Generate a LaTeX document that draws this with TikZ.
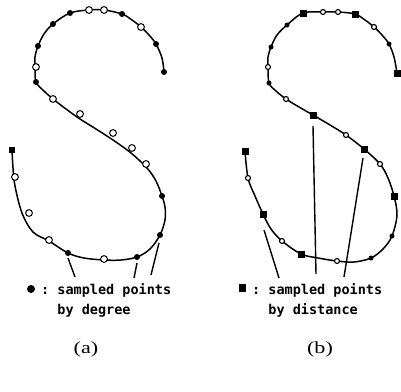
\documentclass[tikz,border=0pt]{standalone}
\usepackage{fontspec}
\newfontfamily\legendfont{DejaVu Sans Mono}
\newfontfamily\capfont{Liberation Serif}
\usetikzlibrary{positioning}

\begin{document}
\begin{tikzpicture}[x=1pt, y=-1pt]
        \tikzstyle{curve} = [draw, line width=1.5pt, line join=round]
        \tikzstyle{line} = [draw, line width=1.4pt]
        \tikzstyle{ptfill} = [circle, fill=black, inner sep=0pt, minimum size=6pt]
        \tikzstyle{ptsmall} = [circle, fill=black, inner sep=0pt, minimum size=5pt]
        \tikzstyle{ptopen} = [circle, draw, fill=white, line width=1pt, inner sep=0pt, minimum size=6.8pt]
        \tikzstyle{ptopensmall} = [circle, draw, fill=white, line width=1.1pt, inner sep=0pt, minimum size=5pt]
        \tikzstyle{ptsquare} = [rectangle, fill=black, inner sep=0pt, minimum size=7pt]
        \tikzstyle{legend} = [font=\legendfont\bfseries\fontsize{13.5}{20}\selectfont, align=left, inner sep=0pt, anchor=north west]
        \tikzstyle{caption} = [font=\capfont\fontsize{17}{20}\selectfont, inner sep=0pt]

        \useasboundingbox (0,0) rectangle (401,391);

        % Curve (a)
        \draw[curve] plot[smooth, tension=0.55] coordinates {
            (164,72) (162,58) (156,44) (149,35) (141,27) (132,20) (122,14) (104,10)
            (89,10) (70,13) (53,24) (44,34) (38,46) (35,57) (35,67) (36,82) (44,91)
            (53,99) (66,109) (80,119) (96,129) (113,140) (131,153) (147,168) (156,181)
            (162,196) (165,207) (165,220) (160,235) (150,249) (137,257) (121,260)
            (104,260) (84,258) (68,253) (49,241) (33,232) (22,213) (15,186) (13,168) (12,150)};

        % Curve (b)
        \draw[curve] plot[smooth, tension=0.55] coordinates {
            (397,73) (394,57) (389,44) (382,35) (374,27) (365,20) (355,14) (338,12)
            (323,12) (303,13) (287,25) (277,35) (271,47) (268,57) (268,67) (269,83)
            (276,91) (286,99) (299,107) (313,115) (330,125) (346,135) (364,149)
            (380,164) (388,178) (394,196) (397,215) (392,236) (383,249) (371,258)
            (354,262) (337,261) (318,258) (301,254) (282,241) (271,229) (263,214)
            (255,196) (248,178) (245,151)};

        % Points (a)
        \foreach \x/\y [count=\i] in {164/72, 156/44, 122/14, 70/13, 53/24, 38/46, 36/82,
            162/196, 160/235, 137/257, 68/253}
            \node[ptfill] (fa\i) at (\x,\y) {};
        \node[ptsquare, minimum size=6pt] (fa0) at (12,150) {};
        \foreach \x/\y [count=\i] in {141/27, 104/10, 89/10, 36/67, 53/99, 80/114,
            113/133, 132/148, 146/164, 15/177, 29/213, 49/240, 104/259}
            \node[ptopen] (oa\i) at (\x,\y) {};

        % Points (b)
        \foreach \x/\y [count=\i] in {397/73, 355/14, 303/13, 313/115, 364/149,
            394/196, 301/254, 263/214, 245/151}
            \node[ptsquare] (sb\i) at (\x,\y) {};
        \foreach \x/\y [count=\i] in {389/44, 287/25, 271/47, 269/83, 392/236, 371/258}
            \node[ptsmall] (fb\i) at (\x,\y) {};
        \foreach \x/\y [count=\i] in {374/27, 338/12, 323/12, 268/67, 286/99, 346/135,
            380/164, 337/261, 282/241, 248/178}
            \node[ptopensmall] (ob\i) at (\x,\y) {};

        % Legends
        \node[ptfill, minimum size=8pt] (keya) at (31,289) {};
        \node[legend] (texta) at (41,283) {:\ sampled points\\\phantom{:\ }by degree};
        \node[ptsquare, minimum width=7pt, minimum height=8pt] (keyb) at (242,288) {};
        \node[legend] (textb) at (252,283) {:\ sampled points\\\phantom{:\ }by distance};

        % Pointer lines
        \coordinate (ta1) at (68,258);  \coordinate (ba1) at (75,277);
        \coordinate (ta2) at (137,263); \coordinate (ba2) at (134,278);
        \coordinate (ta3) at (159,243); \coordinate (ba3) at (151,275);
        \coordinate (tb1) at (264,230); \coordinate (bb1) at (279,278);
        \coordinate (tb2) at (313,126); \coordinate (bb2) at (316,274);
        \coordinate (tb3) at (363,158); \coordinate (bb3) at (344,277);
        \foreach \p in {a1, a2, a3, b1, b2, b3}
            \path[line] (b\p) -- (t\p);

        % Captions
        \node[caption] (capa) at (86,349) {\scalebox{1.3}[1]{(a)}};
        \node[caption] (capb) at (320,349) {\scalebox{1.3}[1]{(b)}};
    \end{tikzpicture}
\end{document}
